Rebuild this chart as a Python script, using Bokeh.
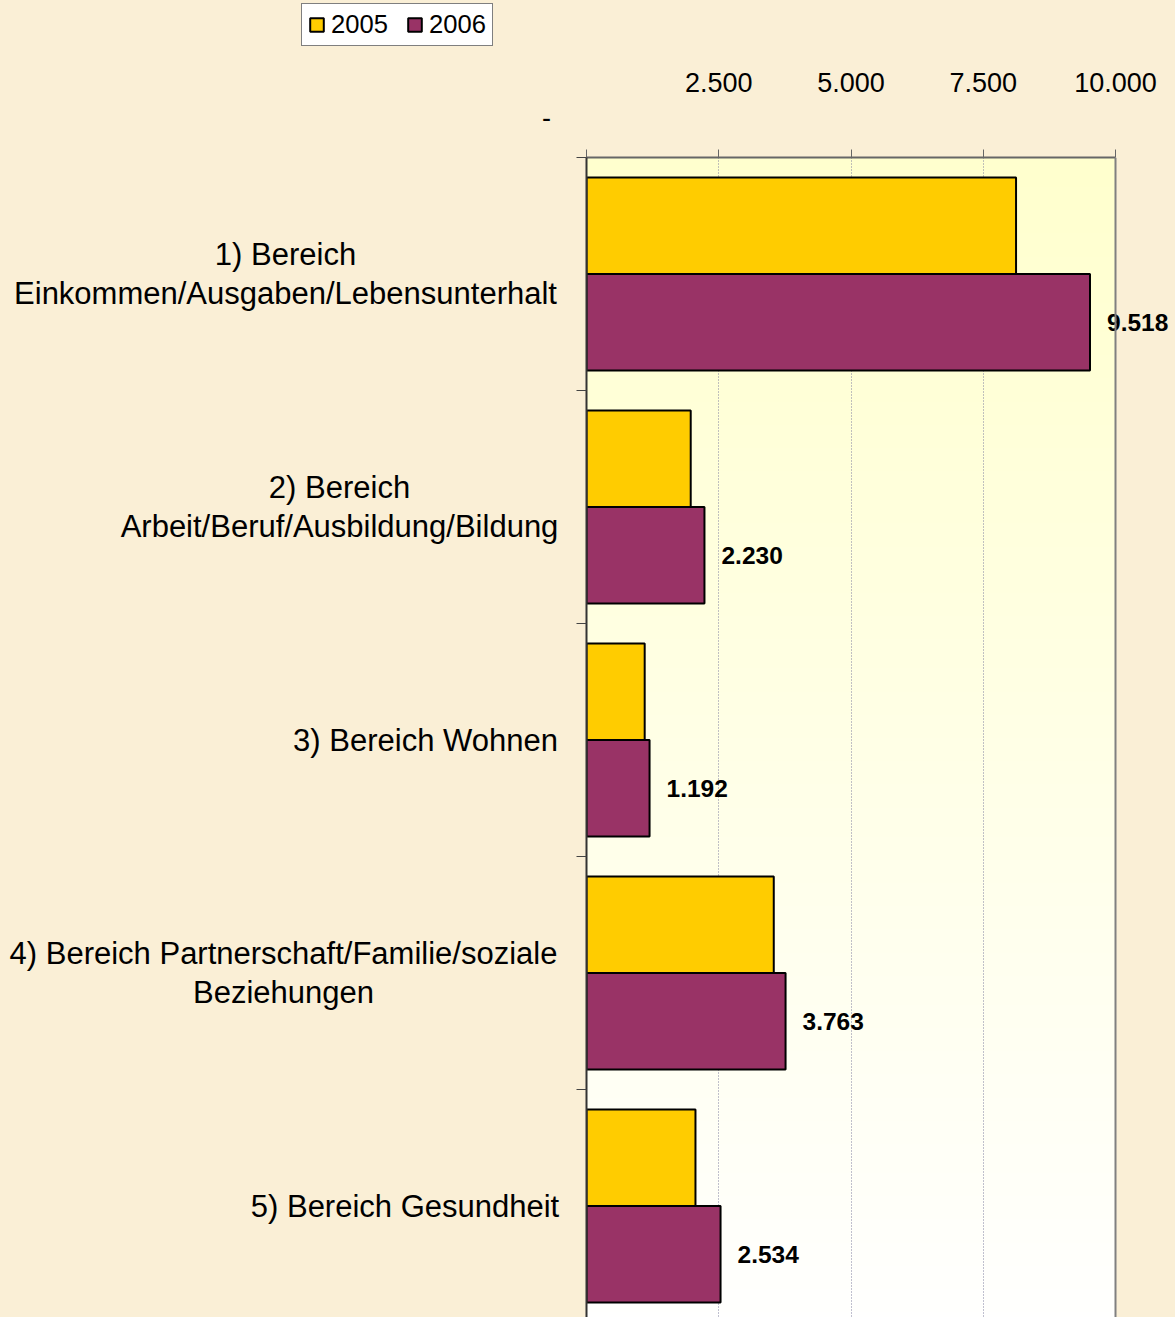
import numpy as np
from bokeh.plotting import figure
from bokeh.layouts import row
from bokeh.models import (Range1d, FixedTicker, Legend, LegendItem, Span, ColumnDataSource)
from bokeh.core.properties import value
from bokeh.embed import file_html
from bokeh.resources import INLINE

# ---------------- data ----------------
categories = [
    "1) Bereich\nEinkommen/Ausgaben/Lebensunterhalt",
    "2) Bereich\nArbeit/Beruf/Ausbildung/Bildung",
    "3) Bereich Wohnen",
    "4) Bereich Partnerschaft/Familie/soziale\nBeziehungen",
    "5) Bereich Gesundheit",
]
series = ["2005", "2006"]
values_2005 = [8120, 1970, 1100, 3540, 2060]
values_2006 = [9518, 2230, 1192, 3763, 2534]
value_labels_2006 = ["9.518", "2.230", "1.192", "3.763", "2.534"]
tick_values = [0, 2500, 5000, 7500, 10000]
tick_labels = ["-", "2.500", "5.000", "7.500", "10.000"]

# ---------------- layout / style ----------------
FONT = "Liberation Sans"
C2005 = "#FFCC00"
C2006 = "#993366"
PAGE_BG = "#FAEFD6"
W, H = 1175, 1317
FRAME_LEFT, FRAME_RIGHT, FRAME_TOP = 586, 1115, 157
BAND_PX = 233                      # pixels per category band
TICK_OUT_Y = 10
LEFT_W = FRAME_LEFT - TICK_OUT_Y   # width of the label panel
X_MAX = tick_values[-1]
X_END = X_MAX * (W - FRAME_LEFT) / (FRAME_RIGHT - FRAME_LEFT)
Y_BOTTOM = (H - FRAME_TOP) / BAND_PX
Y_TOP_LEFT = -FRAME_TOP / BAND_PX
BAR_H = 0.414
LABEL_CENTERS_PX = [285, 339, 425, 283, 404.5]   # x centres of category label blocks
ZERO_LABEL_PX = (546, 117)
LEGEND_TOPLEFT_PX = (301, 6)
LEGEND_H = 40

n = len(categories)
y_2005 = [i + 0.5 - BAR_H / 2 for i in range(n)]
y_2006 = [i + 0.5 + BAR_H / 2 for i in range(n)]

# ================= main plot =================
p = figure(width=W - LEFT_W, height=H,
           x_range=Range1d(0, X_END), y_range=Range1d(Y_BOTTOM, 0),
           x_axis_location="above",
           output_backend="svg", toolbar_location=None,
           min_border_left=TICK_OUT_Y, min_border_right=0,
           min_border_top=FRAME_TOP, min_border_bottom=0,
           background_fill_color=PAGE_BG,
           border_fill_color=PAGE_BG, outline_line_color=None)
p.frame_align = False

# plot-area gradient (light yellow at top -> white at bottom)
rows = 200
t = np.linspace(0, 1, rows)
img = np.zeros((rows, 2), dtype=np.uint32)
view = img.view(dtype=np.uint8).reshape((rows, 2, 4))
view[:, :, 0] = 255
view[:, :, 1] = 255
view[:, :, 2] = (206 + (254 - 206) * t)[:, None].astype(np.uint8)
view[:, :, 3] = 255
p.image_rgba(image=[img], x=0, y=0, dw=X_MAX, dh=Y_BOTTOM, level="image")

# grid
p.xgrid.ticker = FixedTicker(ticks=tick_values[1:-1])
p.xgrid.grid_line_color = "#8080A0"
p.xgrid.grid_line_dash = "1 2"
p.xgrid.grid_line_width = 1
p.ygrid.grid_line_color = None

# bars
src = ColumnDataSource(dict(y05=y_2005, y06=y_2006, v05=values_2005,
                            v06=values_2006, lab=value_labels_2006))
p.hbar(y="y05", left=0, right="v05", height=BAR_H, source=src,
       fill_color=C2005, line_color="black", line_width=2)
p.hbar(y="y06", left=0, right="v06", height=BAR_H, source=src,
       fill_color=C2006, line_color="black", line_width=2)

p.text(x="v06", y="y06", text="lab", source=src, x_offset=17,
       text_align="left", text_baseline="middle",
       text_font=value(FONT), text_font_style="bold",
       text_font_size="24.5px", text_color="black")

# right border of plot area
p.add_layout(Span(location=X_MAX, dimension="height",
                  line_color="#808080", line_width=2))

# x axis (top)
xa = p.xaxis[0]
xa.bounds = (0, X_MAX)
xa.ticker = FixedTicker(ticks=tick_values[1:], minor_ticks=tick_values[:1])
xa.major_label_overrides = {v: l for v, l in zip(tick_values[1:], tick_labels[1:])}
xa.major_label_text_font = FONT
xa.major_label_text_font_size = "27px"
xa.major_label_text_color = "black"
xa.major_label_standoff = 58
xa.major_tick_out = 8
xa.major_tick_in = 0
xa.minor_tick_out = 8
xa.minor_tick_in = 0
xa.major_tick_line_color = "#666666"
xa.minor_tick_line_color = "#666666"
xa.axis_line_color = "#666666"
xa.axis_line_width = 2

# y axis (left): category separators only
ya = p.yaxis[0]
ya.ticker = FixedTicker(ticks=[], minor_ticks=list(range(n + 1)))
ya.minor_tick_out = TICK_OUT_Y
ya.minor_tick_in = 0
ya.minor_tick_line_color = "#444444"
ya.major_label_standoff = 0
ya.axis_line_color = "#333333"
ya.axis_line_width = 2

# ================= label panel (left) =================
def py2y(py):
    return (py - FRAME_TOP) / BAND_PX

lp = figure(width=LEFT_W, height=H,
            x_range=Range1d(0, LEFT_W), y_range=Range1d(Y_BOTTOM, Y_TOP_LEFT),
            x_axis_location=None, y_axis_location=None,
            output_backend="svg", toolbar_location=None,
            min_border=0, background_fill_color=PAGE_BG,
            border_fill_color=PAGE_BG, outline_line_color=None)
lp.frame_align = False
lp.xgrid.grid_line_color = None
lp.ygrid.grid_line_color = None

lp.text(x=LABEL_CENTERS_PX, y=[i + 0.5 for i in range(n)], text=categories,
        text_align="center", text_baseline="middle",
        text_font=value(FONT), text_font_size="31px",
        text_line_height=1.1, text_color="black")

# zero label of the value axis, shown by the original left of the axis
lp.text(x=[ZERO_LABEL_PX[0]], y=[py2y(ZERO_LABEL_PX[1])], text=[tick_labels[0]],
        text_align="center", text_baseline="middle",
        text_font=value(FONT), text_font_size="27px", text_color="black")

# hidden proxies carrying the series styles for the legend
g05 = lp.hbar(y="y05", left=0, right="v05", height=BAR_H, source=src,
              fill_color=C2005, line_color="black", line_width=2, visible=False)
g06 = lp.hbar(y="y06", left=0, right="v06", height=BAR_H, source=src,
              fill_color=C2006, line_color="black", line_width=2, visible=False)

legend = Legend(items=[LegendItem(label=series[0], renderers=[g05]),
                       LegendItem(label=series[1], renderers=[g06])],
                orientation="horizontal",
                location=(LEGEND_TOPLEFT_PX[0], H - LEGEND_TOPLEFT_PX[1] - LEGEND_H),
                label_text_font=FONT, label_text_font_size="25.6px",
                label_text_color="black",
                glyph_width=17, glyph_height=17, label_standoff=6,
                spacing=18, padding=6, margin=0,
                border_line_color="black", border_line_width=1,
                background_fill_color="white", background_fill_alpha=1,
                inactive_fill_alpha=0)
lp.add_layout(legend, "center")

layout = row(lp, p, spacing=0, styles={"background-color": PAGE_BG})
open("out.html", "w").write(file_html(layout, INLINE))
